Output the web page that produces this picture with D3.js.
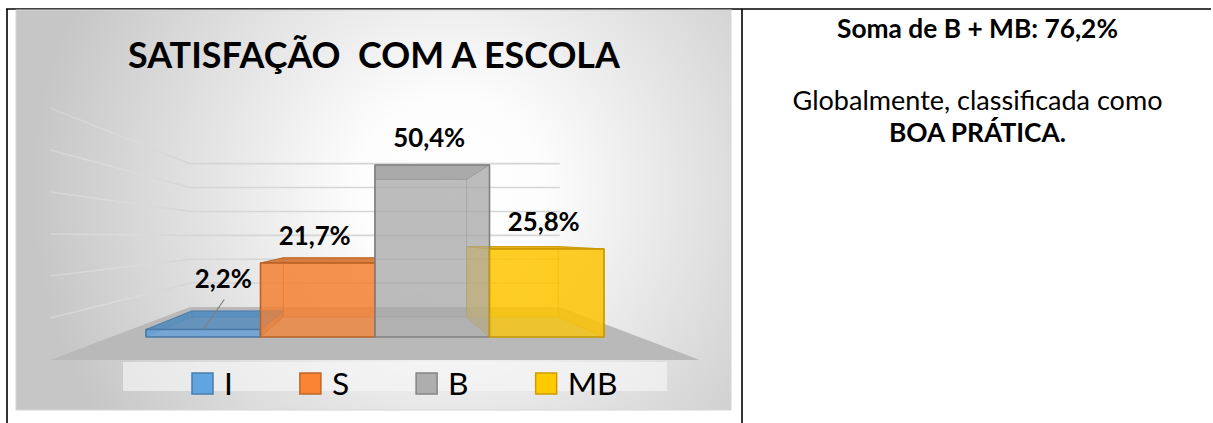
<!DOCTYPE html>
<html>
<head>
<meta charset="utf-8">
<script src="https://cdn.jsdelivr.net/npm/d3@7/dist/d3.min.js"></script>
<style>
  html, body { margin: 0; padding: 0; background: #ffffff; }
  svg { display: block; }
  text { font-family: Lato, "Open Sans", sans-serif; }
</style>
</head>
<body>
<svg id="page" width="1213" height="423"></svg>
<script>
// Survey results: satisfaction with the school
const categories = ["I", "S", "B", "MB"];
const values = [2.2, 21.7, 50.4, 25.8];
const valueLabels = ["2,2%", "21,7%", "50,4%", "25,8%"];
const seriesColors = ["#5b9bd5", "#ed7d31", "#a5a5a5", "#ffc000"];
const gridTicks = [0, 10, 20, 30, 40, 50, 60];
const chartTitle = "SATISFAÇÃO  COM A ESCOLA";
const summaryTitle = "Soma de B + MB: 76,2%";
const summaryText = "Globalmente, classificada como";
const summaryVerdict = "BOA PRÁTICA.";

const svg = d3.select("#page");
const defs = svg.append("defs");

// ---- page table frame ----
const frame = svg.append("g").attr("stroke", "#000").attr("stroke-width", 1.6);
frame.append("line").attr("x1", 6).attr("x2", 1211).attr("y1", 9).attr("y2", 9);
frame.append("line").attr("x1", 7).attr("x2", 7).attr("y1", 9).attr("y2", 423);
frame.append("line").attr("x1", 742).attr("x2", 742).attr("y1", 9).attr("y2", 423);

// ---- chart area background ----
const bg = defs.append("radialGradient").attr("id", "chartBg")
  .attr("gradientUnits", "userSpaceOnUse")
  .attr("cx", 450).attr("cy", 190).attr("r", 420);
bg.append("stop").attr("offset", 0).attr("stop-color", "#ffffff");
bg.append("stop").attr("offset", 0.22).attr("stop-color", "#fdfdfd");
bg.append("stop").attr("offset", 1).attr("stop-color", "#c6c6c6");

svg.append("rect")
  .attr("x", 16).attr("y", 10).attr("width", 715).attr("height", 400)
  .attr("fill", "url(#chartBg)")
  .attr("stroke", "#d6d6d6").attr("stroke-width", 1);

// ---- 3D projection: planes scaled towards the vanishing point ----
const vp = { x: 375, y: 237 };
const depth = { wall: 0.7, barBack: 0.8, barFront: 1.0, floorFront: 1.23 };
const floorHalf = 264;
const project = (X, Y, s) => [vp.x + X * s, vp.y + Y * s];

const x = d3.scaleBand().domain(categories).range([-229, 229]).paddingInner(0).paddingOuter(0);
const y = d3.scaleLinear().domain([0, 60]).range([100, 100 - 60 * 3.413]);

const chart = svg.append("g");

// side wall gridlines fade towards the front
const fade = defs.append("linearGradient").attr("id", "sideFade")
  .attr("gradientUnits", "userSpaceOnUse")
  .attr("x1", project(-floorHalf, 0, depth.floorFront)[0]).attr("x2", project(-floorHalf, 0, depth.wall)[0])
  .attr("y1", 0).attr("y2", 0);
fade.append("stop").attr("offset", 0).attr("stop-color", "#e6e6e6").attr("stop-opacity", 0.4);
fade.append("stop").attr("offset", 1).attr("stop-color", "#d4d4d4").attr("stop-opacity", 1);

const sideLine = d3.line();
chart.append("g").selectAll("path").data(gridTicks.filter(t => t > 0)).join("path")
  .attr("d", t => sideLine([project(-floorHalf, y(t), depth.floorFront), project(-floorHalf, y(t), depth.wall)]))
  .attr("fill", "none").attr("stroke", "url(#sideFade)").attr("stroke-width", 1.6);

chart.append("g").selectAll("line").data(gridTicks.filter(t => t > 0)).join("line")
  .attr("x1", project(-floorHalf, 0, depth.wall)[0])
  .attr("x2", project(floorHalf, 0, depth.wall)[0])
  .attr("y1", t => project(0, y(t), depth.wall)[1])
  .attr("y2", t => project(0, y(t), depth.wall)[1])
  .attr("stroke", "#d6d6d6").attr("stroke-width", 1.6);

// floor
const floorPts = [
  project(-floorHalf, y(0), depth.wall),
  project(floorHalf, y(0), depth.wall),
  project(floorHalf, y(0), depth.floorFront),
  project(-floorHalf, y(0), depth.floorFront)
];
chart.append("polygon")
  .attr("points", floorPts.map(p => p.join(",")).join(" "))
  .attr("fill", "#b9b9b9");

// legend band
svg.append("rect")
  .attr("x", 123).attr("y", 362).attr("width", 544).attr("height", 29)
  .attr("fill", "#f6f6f6").attr("fill-opacity", 0.65);

// ---- bars as translucent boxes, drawn back to front by face layer ----
const poly = pts => pts.map(p => p.join(",")).join(" ");
const layers = ["back", "side", "top", "front"].map(n => chart.append("g").attr("class", n).attr("stroke-linejoin", "round"));
const [backL, sideL, topL, frontL] = layers;

categories.forEach((c, i) => {
  const X0 = x(c), X1 = x(c) + x.bandwidth();
  const Yt = y(values[i]), Yb = y(0);
  const f = depth.barFront, b = depth.barBack;
  const base = d3.color(seriesColors[i]);
  const edge = base.darker(0.7).formatHex();
  const face = (layer, pts, fill, op, sw, sop) => layer.append("polygon")
    .attr("points", poly(pts))
    .attr("fill", fill).attr("fill-opacity", op)
    .attr("stroke", edge).attr("stroke-width", sw).attr("stroke-opacity", sop);
  face(backL, [project(X0, Yt, b), project(X1, Yt, b), project(X1, Yb, b), project(X0, Yb, b)],
       base.formatHex(), 0.45, 1, 0.4);
  face(sideL, [project(X0, Yt, f), project(X0, Yt, b), project(X0, Yb, b), project(X0, Yb, f)],
       base.darker(0.25).formatHex(), 0.4, 1, 0.4);
  face(sideL, [project(X1, Yt, f), project(X1, Yt, b), project(X1, Yb, b), project(X1, Yb, f)],
       base.darker(0.25).formatHex(), 0.4, 1, 0.4);
  face(topL, [project(X0, Yt, f), project(X1, Yt, f), project(X1, Yt, b), project(X0, Yt, b)],
       base.darker(0.35).formatHex(), 0.8, 1, 0.8);
  face(frontL, [project(X0, Yt, f), project(X1, Yt, f), project(X1, Yb, f), project(X0, Yb, f)],
       base.brighter(0.1).formatHex(), i === 2 ? 0.6 : 0.74, 1.6, 1);
});

// ---- value labels ----
function fitWidth(sel, target) {
  const w = sel.node().getComputedTextLength();
  const fs = parseFloat(sel.attr("font-size"));
  const size = fs * target / w;
  sel.attr("font-size", size);
  return size;
}

const probe = svg.append("text").attr("font-weight", 700).attr("font-size", 28).text(valueLabels[1]);
const labelSize = fitWidth(probe, 72);
probe.remove();

// the smallest label sits beside its bar with a leader line
const offsetLabel = { index: 0, dx: 20, dy: -41 };
const labels = svg.append("g").attr("font-weight", 700).attr("font-size", labelSize)
  .attr("text-anchor", "middle").attr("fill", "#000");
categories.forEach((c, i) => {
  const [cx, top] = project(x(c) + x.bandwidth() / 2, y(values[i]), depth.barFront);
  let lx = cx - 3, ly = top - 18;
  if (i === offsetLabel.index) {
    lx = cx + offsetLabel.dx;
    ly = top + offsetLabel.dy;
    svg.append("line")
      .attr("x1", lx + 1).attr("y1", ly + 11)
      .attr("x2", cx).attr("y2", top)
      .attr("stroke", "#7f7f7f").attr("stroke-width", 1.2);
  }
  labels.append("text").attr("x", lx).attr("y", ly).text(valueLabels[i]);
});

// ---- title ----
const title = svg.append("text")
  .attr("x", 374).attr("y", 68)
  .attr("text-anchor", "middle")
  .attr("font-weight", 700).attr("font-size", 38)
  .style("white-space", "pre")
  .attr("fill", "#000")
  .text(chartTitle);
fitWidth(title, 492);

// ---- legend ----
const legend = svg.append("g");
const legProbe = legend.append("text").attr("font-size", 32).text("MB");
const legSize = fitWidth(legProbe, 50);
legProbe.remove();
let cursor = 192;
categories.forEach((c, i) => {
  const base = d3.color(seriesColors[i]);
  legend.append("rect")
    .attr("x", cursor).attr("y", 373).attr("width", 21).attr("height", 21)
    .attr("fill", base.brighter(0.15).formatHex())
    .attr("stroke", base.darker(0.6).formatHex()).attr("stroke-width", 1.5);
  const t = legend.append("text")
    .attr("x", cursor + 32).attr("y", 395)
    .attr("font-size", legSize).attr("fill", "#000")
    .text(c);
  cursor += 32 + t.node().getComputedTextLength() + 67;
});

// ---- summary column ----
const colCenter = 977.5;
const s1 = svg.append("text").attr("x", colCenter).attr("y", 38)
  .attr("text-anchor", "middle").attr("font-weight", 700).attr("font-size", 26)
  .text(summaryTitle);
const boldSize = fitWidth(s1, 281);
const s2 = svg.append("text").attr("x", colCenter).attr("y", 110)
  .attr("text-anchor", "middle").attr("font-size", 26)
  .text(summaryText);
fitWidth(s2, 370);
svg.append("text").attr("x", colCenter).attr("y", 142)
  .attr("text-anchor", "middle").attr("font-weight", 700).attr("font-size", boldSize)
  .text(summaryVerdict);
</script>
</body>
</html>
